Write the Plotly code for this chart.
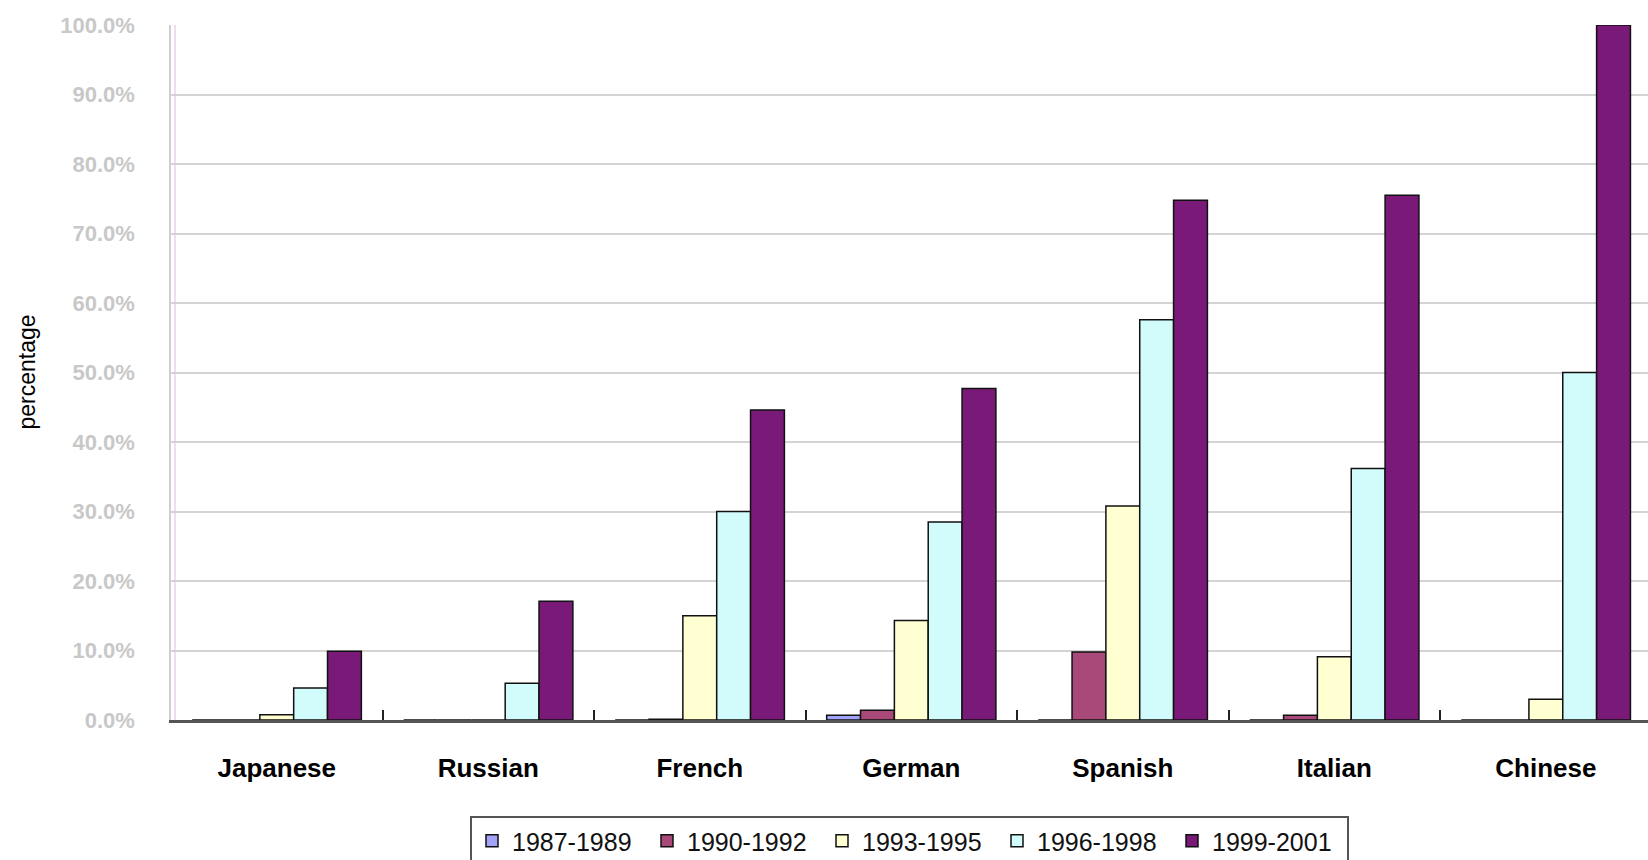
import plotly.graph_objects as go

categories = ["Japanese", "Russian", "French", "German", "Spanish", "Italian", "Chinese"]
series_names = ["1987-1989", "1990-1992", "1993-1995", "1996-1998", "1999-2001"]
s1987 = [0, 0, 0, 0.007, 0, 0, 0]
s1990 = [0, 0, 0.001, 0.014, 0.098, 0.007, 0]
s1993 = [0.0075, 0, 0.150, 0.143, 0.308, 0.091, 0.030]
s1996 = [0.046, 0.053, 0.300, 0.285, 0.576, 0.362, 0.500]
s1999 = [0.099, 0.171, 0.446, 0.477, 0.748, 0.755, 1.0]
colors = ["#A3A3FA", "#A8497A", "#FFFFD2", "#D2FCFC", "#7A1A78"]
y_ticks = [0, 0.1, 0.2, 0.3, 0.4, 0.5, 0.6, 0.7, 0.8, 0.9, 1.0]

W, H = 1648, 860
L, R, T, B = 171, 0, 25, 140

fig = go.Figure()
for name, vals, col in zip(series_names, [s1987, s1990, s1993, s1996, s1999], colors):
    fig.add_trace(go.Bar(
        x=categories, y=vals, name=name,
        marker=dict(color=col, line=dict(color="#111111", width=1.5)),
    ))

plot_h = H - T - B
fig.update_layout(
    width=W, height=H,
    margin=dict(l=L, r=R, t=T, b=B, autoexpand=False),
    paper_bgcolor="white", plot_bgcolor="white",
    barmode="group", bargap=0.2, bargroupgap=0,
    showlegend=True,
    legend=dict(
        orientation="h", xanchor="center", x=0.5,
        yanchor="top", y=-(816 - (H - B)) / plot_h,
        font=dict(family="Liberation Sans", size=25, color="#111111"),
        bordercolor="#555555", borderwidth=2, bgcolor="white",
        itemwidth=30, entrywidth=130,
    ),
    xaxis=dict(
        type="category", range=[-0.5, 6.483],
        showline=True, linecolor="#555555", linewidth=2.5,
        ticks="inside", tickson="boundaries", ticklen=10, tickwidth=2, tickcolor="#222222",
        showgrid=False,
        tickfont=dict(family="Liberation Sans", size=26, color="black", weight="bold"),
        ticklabelstandoff=23,
    ),
    yaxis=dict(
        range=[0, 1.0], tickvals=y_ticks, tickformat=".1%",
        showline=True, linecolor="#cfcfcf", linewidth=1.5,
        showgrid=True, gridcolor="#d4d4d4", gridwidth=1.5,
        zeroline=False, ticks="",
        tickfont=dict(family="Liberation Sans", size=22, color="#c8c8c8", weight="bold"),
        ticklabelstandoff=30,
    ),
    shapes=[dict(
        type="line", xref="paper", yref="paper",
        x0=4 / (W - L), x1=4 / (W - L), y0=0, y1=1,
        line=dict(color="#dcbcdc", width=1),
    )],
    annotations=[dict(
        text="percentage", xref="paper", yref="paper",
        x=(26 - L) / (W - L - R), y=0.5, xanchor="center", yanchor="middle",
        textangle=-90, showarrow=False,
        font=dict(family="Liberation Sans", size=23, color="black"),
    )],
)

fig.write_html("out.html")
